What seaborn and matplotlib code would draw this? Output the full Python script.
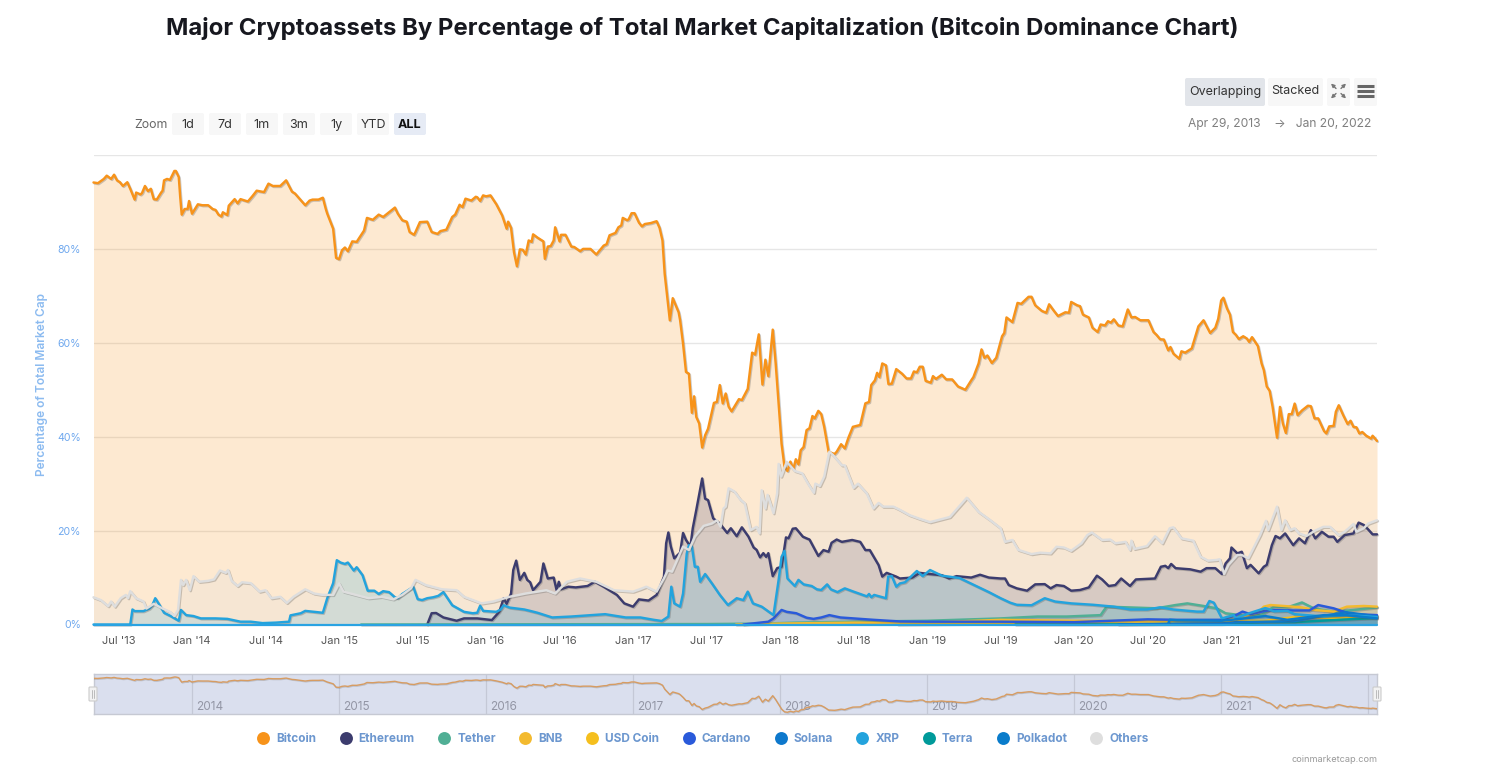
import matplotlib
matplotlib.use("Agg")
import matplotlib.pyplot as plt
import matplotlib.patheffects as pe
from matplotlib.lines import Line2D
from matplotlib.patches import FancyBboxPatch
from matplotlib.transforms import ScaledTranslation
import pandas as pd
import seaborn as sns

# (decimal year, % of total market cap)
bitcoin = [(2013.33,94.15),(2013.36,94.0),(2013.40,94.9),(2013.42,95.6),(2013.45,94.9),(2013.47,95.8),(2013.49,94.6),(2013.51,94.2),(2013.53,93.4),(2013.56,94.2),(2013.58,92.8),(2013.61,90.5),(2013.62,92.0),(2013.65,91.6),(2013.66,91.9),(2013.68,93.4),(2013.70,92.3),(2013.72,92.8),(2013.74,90.6),(2013.76,90.5),(2013.79,92.0),(2013.80,92.4),(2013.81,94.6),(2013.83,94.9),(2013.85,94.7),(2013.88,96.6),(2013.89,96.6),(2013.91,95.3),(2013.92,91.0),(2013.93,87.3),(2013.95,88.5),(2013.97,88.5),(2013.98,90.2),(2014.00,87.5),(2014.04,89.5),(2014.07,89.3),(2014.11,89.3),(2014.14,88.5),(2014.16,88.3),(2014.18,87.3),(2014.20,86.9),(2014.21,87.8),(2014.24,87.2),(2014.25,89.2),(2014.29,90.6),(2014.31,89.7),(2014.33,90.6),(2014.38,90.1),(2014.41,91.2),(2014.44,92.4),(2014.49,92.1),(2014.52,93.9),(2014.55,93.4),(2014.60,93.4),(2014.64,94.6),(2014.68,92.2),(2014.70,91.8),(2014.77,89.3),(2014.80,90.3),(2014.82,90.5),(2014.86,90.5),(2014.89,90.9),(2014.91,88.5),(2014.92,87.5),(2014.96,84.3),(2014.98,78.1),(2015.00,77.8),(2015.02,79.7),(2015.04,80.3),(2015.06,79.5),(2015.09,81.6),(2015.12,81.5),(2015.17,83.9),(2015.19,86.6),(2015.23,86.2),(2015.27,87.3),(2015.30,86.8),(2015.32,87.3),(2015.38,88.8),(2015.40,87.5),(2015.43,86.1),(2015.46,85.8),(2015.48,83.6),(2015.51,83.0),(2015.52,83.6),(2015.55,85.7),(2015.60,85.8),(2015.63,83.6),(2015.67,83.2),(2015.69,83.8),(2015.73,84.1),(2015.77,86.8),(2015.79,87.3),(2015.82,89.4),(2015.84,88.9),(2015.86,90.7),(2015.90,90.3),(2015.93,91.1),(2015.94,91.0),(2015.96,90.2),(2015.98,91.4),(2016.00,91.2),(2016.03,91.4),(2016.07,89.5),(2016.11,87.1),(2016.14,84.3),(2016.15,85.8),(2016.17,84.5),(2016.19,79.3),(2016.21,76.3),(2016.23,79.9),(2016.25,79.8),(2016.27,78.8),(2016.29,81.8),(2016.31,81.5),(2016.32,83.1),(2016.35,82.4),(2016.39,81.6),(2016.40,77.9),(2016.42,80.5),(2016.44,80.6),(2016.46,81.8),(2016.47,84.6),(2016.50,81.6),(2016.51,83.0),(2016.54,83.0),(2016.58,80.5),(2016.60,80.4),(2016.64,79.5),(2016.66,80.0),(2016.71,80.0),(2016.75,78.8),(2016.80,80.7),(2016.82,81.0),(2016.84,82.9),(2016.88,83.4),(2016.90,84.6),(2016.92,85.0),(2016.93,86.6),(2016.96,86.1),(2016.97,86.3),(2016.99,87.6),(2017.01,87.6),(2017.04,85.6),(2017.06,84.8),(2017.08,85.3),(2017.12,85.5),(2017.16,85.9),(2017.18,84.5),(2017.20,81.8),(2017.215,74.7),(2017.23,70.5),(2017.25,64.8),(2017.27,69.5),(2017.31,66.5),(2017.32,64.8),(2017.34,59.8),(2017.36,53.8),(2017.38,53.4),(2017.40,45.1),(2017.415,48.6),(2017.43,44.2),(2017.45,42.8),(2017.47,37.7),(2017.49,40.3),(2017.51,41.7),(2017.55,47.2),(2017.57,47.4),(2017.59,51.0),(2017.61,47.1),(2017.63,49.2),(2017.65,46.4),(2017.67,45.4),(2017.72,48.0),(2017.74,47.8),(2017.78,50.2),(2017.81,57.9),(2017.83,57.5),(2017.855,61.8),(2017.88,51.1),(2017.90,56.4),(2017.92,52.9),(2017.95,62.8),(2017.97,55.6),(2018.00,42.8),(2018.01,38.5),(2018.03,33.6),(2018.05,32.7),(2018.07,34.7),(2018.09,33.1),(2018.107,35.2),(2018.125,34.1),(2018.14,37.1),(2018.16,37.8),(2018.18,41.4),(2018.20,41.8),(2018.22,44.4),(2018.235,43.9),(2018.26,45.5),(2018.28,44.8),(2018.30,42.1),(2018.33,36.8),(2018.37,36.3),(2018.385,36.8),(2018.415,38.4),(2018.44,37.5),(2018.465,39.8),(2018.495,42.1),(2018.545,42.5),(2018.58,47.1),(2018.605,47.4),(2018.62,51.0),(2018.645,52.0),(2018.66,53.6),(2018.675,52.7),(2018.695,55.6),(2018.72,55.2),(2018.737,51.2),(2018.76,51.3),(2018.79,54.4),(2018.83,53.4),(2018.86,52.4),(2018.89,52.4),(2018.91,53.9),(2018.93,53.7),(2018.95,54.9),(2018.97,54.9),(2018.99,51.9),(2019.025,51.5),(2019.04,52.9),(2019.06,52.3),(2019.10,53.2),(2019.13,52.2),(2019.17,52.2),(2019.21,50.7),(2019.26,50.0),(2019.30,52.0),(2019.315,52.7),(2019.35,55.6),(2019.37,58.6),(2019.39,56.8),(2019.41,57.3),(2019.44,55.7),(2019.47,56.8),(2019.51,61.4),(2019.525,62.1),(2019.54,65.4),(2019.58,64.4),(2019.615,68.5),(2019.64,68.3),(2019.69,69.8),(2019.71,69.8),(2019.735,68.0),(2019.78,66.8),(2019.81,66.4),(2019.83,68.2),(2019.86,66.9),(2019.89,65.7),(2019.94,66.5),(2019.965,66.4),(2019.98,68.7),(2020.02,68.0),(2020.04,67.8),(2020.06,66.0),(2020.10,65.4),(2020.125,63.2),(2020.16,62.3),(2020.18,63.9),(2020.21,63.7),(2020.23,64.6),(2020.25,64.3),(2020.27,65.0),(2020.30,63.7),(2020.33,63.5),(2020.365,67.1),(2020.39,65.4),(2020.415,65.5),(2020.45,64.8),(2020.505,64.8),(2020.54,62.3),(2020.56,61.7),(2020.585,60.75),(2020.61,60.7),(2020.64,58.4),(2020.655,59.1),(2020.675,57.7),(2020.715,56.6),(2020.73,58.2),(2020.755,57.9),(2020.80,58.8),(2020.82,60.9),(2020.845,63.5),(2020.88,64.8),(2020.925,62.1),(2020.96,63.2),(2020.98,65.1),(2021.00,69.0),(2021.015,69.6),(2021.04,67.3),(2021.06,66.0),(2021.08,62.3),(2021.10,61.7),(2021.12,60.8),(2021.15,61.4),(2021.175,60.9),(2021.19,60.2),(2021.21,61.2),(2021.25,59.3),(2021.275,55.6),(2021.29,54.2),(2021.31,50.7),(2021.33,49.75),(2021.35,46.35),(2021.38,39.8),(2021.40,46.35),(2021.42,42.8),(2021.44,40.8),(2021.46,44.8),(2021.48,44.8),(2021.50,47.05),(2021.52,44.6),(2021.55,45.6),(2021.59,46.6),(2021.61,46.5),(2021.635,43.9),(2021.66,43.9),(2021.70,41.2),(2021.715,40.7),(2021.735,42.2),(2021.765,42.3),(2021.78,45.3),(2021.80,46.7),(2021.83,44.6),(2021.86,42.7),(2021.88,43.4),(2021.90,42.1),(2021.92,42.0),(2021.94,40.7),(2021.96,41.0),(2021.985,40.25),(2022.02,39.6),(2022.03,40.2),(2022.06,39.1)]

ethereum = [(2015.60,0),(2015.63,2.4),(2015.66,2.45),(2015.71,1.5),(2015.80,0.8),(2015.85,1.3),(2015.94,1.3),(2016.04,0.95),(2016.09,2.7),(2016.12,5.6),(2016.14,4.4),(2016.17,6.6),(2016.185,11.6),(2016.205,13.6),(2016.23,9.5),(2016.26,11.0),(2016.28,9.5),(2016.30,9.0),(2016.32,7.3),(2016.37,9.1),(2016.39,13.0),(2016.42,9.8),(2016.46,10.0),(2016.48,7.3),(2016.495,9.1),(2016.51,7.5),(2016.56,8.05),(2016.61,7.9),(2016.69,8.2),(2016.74,9.1),(2016.80,8.05),(2016.89,6.3),(2016.94,4.5),(2017.00,3.8),(2017.04,5.35),(2017.105,5.1),(2017.16,6.3),(2017.21,10.2),(2017.225,17.3),(2017.24,19.6),(2017.257,16.6),(2017.28,14.1),(2017.32,15.3),(2017.34,19.5),(2017.36,18.0),(2017.39,16.6),(2017.406,20.5),(2017.43,24.4),(2017.47,31.1),(2017.49,26.8),(2017.51,26.5),(2017.545,22.6),(2017.59,21.5),(2017.64,19.5),(2017.665,20.5),(2017.705,18.8),(2017.74,20.7),(2017.785,18.7),(2017.82,16.4),(2017.84,15.9),(2017.864,14.3),(2017.886,15.2),(2017.905,14.4),(2017.92,15.2),(2017.95,10.3),(2017.98,12.0),(2018.01,12.3),(2018.04,18.55),(2018.057,18.35),(2018.086,20.4),(2018.107,20.5),(2018.155,18.7),(2018.18,18.35),(2018.20,18.1),(2018.26,14.6),(2018.295,15.85),(2018.33,15.5),(2018.35,17.4),(2018.385,18.1),(2018.42,17.6),(2018.49,18.0),(2018.545,17.6),(2018.58,15.85),(2018.61,15.85),(2018.67,12.65),(2018.695,10.2),(2018.725,11.0),(2018.79,10.2),(2018.815,9.8),(2018.9,10.0),(2018.95,11.0),(2019.0,10.8),(2019.1,10.5),(2019.15,9.8),(2019.2,10.3),(2019.3,10.0),(2019.36,10.6),(2019.42,10.0),(2019.50,9.8),(2019.53,9.8),(2019.555,8.4),(2019.61,7.7),(2019.68,7.2),(2019.735,8.55),(2019.80,8.6),(2019.84,7.7),(2019.88,8.4),(2019.93,8.2),(2019.98,7.2),(2020.04,7.35),(2020.10,7.9),(2020.155,10.4),(2020.19,9.6),(2020.235,8.2),(2020.28,8.4),(2020.32,9.8),(2020.38,8.2),(2020.42,9.6),(2020.55,9.8),(2020.59,12.3),(2020.62,12.5),(2020.64,12.0),(2020.66,12.9),(2020.69,12.0),(2020.79,11.75),(2020.86,11.25),(2020.90,12.0),(2020.96,12.0),(2021.005,10.75),(2021.03,13.0),(2021.06,14.1),(2021.07,16.4),(2021.11,15.15),(2021.14,15.5),(2021.175,12.0),(2021.20,12.7),(2021.255,10.9),(2021.29,12.3),(2021.31,12.7),(2021.345,16.9),(2021.37,18.85),(2021.40,18.35),(2021.435,19.4),(2021.49,16.9),(2021.53,18.35),(2021.57,17.3),(2021.61,20.1),(2021.64,18.35),(2021.685,19.75),(2021.73,18.7),(2021.765,18.7),(2021.79,17.6),(2021.84,19.05),(2021.90,19.4),(2021.935,21.7),(2021.97,21.2),(2022.00,20.25),(2022.03,19.2),(2022.06,19.2)]

tether = [(2015.15,0),(2017.5,0.1),(2017.9,0.2),(2018.1,0.4),(2018.5,0.6),(2019.0,0.8),(2019.50,1.3),(2019.75,1.7),(2019.95,1.7),(2020.18,2.0),(2020.22,3.8),(2020.37,3.65),(2020.56,3.45),(2020.69,4.15),(2020.77,4.5),(2020.88,3.95),(2020.97,3.45),(2021.03,2.4),(2021.13,2.0),(2021.27,2.0),(2021.36,3.8),(2021.45,3.65),(2021.55,4.7),(2021.63,3.45),(2021.765,2.75),(2021.90,3.1),(2022.06,3.65)]

bnb = [(2017.7,0),(2018.0,0.2),(2018.5,0.4),(2019.0,0.4),(2019.5,1.0),(2020.0,0.8),(2020.5,0.7),(2021.0,0.9),(2021.1,1.2),(2021.2,2.2),(2021.25,2.5),(2021.29,3.8),(2021.335,4.15),(2021.425,3.95),(2021.55,3.65),(2021.63,3.1),(2021.765,2.75),(2021.855,3.8),(2021.97,3.95),(2022.06,3.8)]

usd_coin = [(2018.8,0),(2019.5,0.2),(2020.5,0.2),(2020.8,0.7),(2021.0,0.8),(2021.3,0.8),(2021.5,1.6),(2021.75,1.4),(2022.06,1.8)]

cardano = [(2017.75,0),(2017.92,0.6),(2017.955,1.3),(2018.01,3.1),(2018.045,2.7),(2018.11,2.4),(2018.18,1.45),(2018.227,1.2),(2018.28,1.5),(2018.335,2.0),(2018.41,1.5),(2018.50,1.3),(2018.635,1.0),(2018.815,0.65),(2019.0,0.6),(2019.5,0.6),(2020.0,0.5),(2020.5,1.1),(2020.7,1.0),(2021.0,1.0),(2021.1,2.0),(2021.145,2.75),(2021.2,2.2),(2021.3,2.9),(2021.36,3.1),(2021.5,3.0),(2021.6,3.0),(2021.66,4.15),(2021.765,3.45),(2021.88,2.25),(2022.06,2.0)]

solana = [(2020.3,0),(2020.7,0.2),(2021.0,0.2),(2021.1,0.5),(2021.3,0.6),(2021.5,0.7),(2021.65,1.6),(2021.85,2.6),(2021.95,2.2),(2022.06,1.7)]

xrp = [(2013.33,0),(2013.58,0),(2013.595,3.2),(2013.61,2.85),(2013.67,2.85),(2013.71,3.4),(2013.73,4.1),(2013.75,5.6),(2013.78,4.1),(2013.81,2.5),(2013.855,1.8),(2013.91,0.8),(2013.925,3.1),(2013.96,2.0),(2014.01,1.8),(2014.06,1.3),(2014.16,1.3),(2014.24,1.2),(2014.33,0.6),(2014.40,0.6),(2014.48,0.3),(2014.57,0.4),(2014.66,0.6),(2014.67,1.95),(2014.74,2.4),(2014.77,2.9),(2014.83,2.7),(2014.89,2.5),(2014.92,5.6),(2014.96,8.8),(2014.985,13.7),(2015.01,13.2),(2015.04,12.9),(2015.06,13.2),(2015.10,11.5),(2015.12,12.2),(2015.16,10.5),(2015.195,7.2),(2015.24,7.2),(2015.27,6.5),(2015.30,7.1),(2015.34,6.9),(2015.38,5.8),(2015.40,5.6),(2015.43,6.5),(2015.49,7.7),(2015.505,8.0),(2015.535,5.4),(2015.565,5.2),(2015.60,5.6),(2015.64,5.8),(2015.675,6.1),(2015.71,6.9),(2015.77,4.1),(2015.85,2.7),(2015.91,2.4),(2015.94,2.5),(2015.96,4.0),(2015.98,2.9),(2016.07,2.7),(2016.10,3.2),(2016.12,4.1),(2016.16,3.6),(2016.26,3.2),(2016.30,2.9),(2016.35,2.5),(2016.45,1.5),(2016.58,1.7),(2016.72,2.0),(2016.81,2.2),(2016.95,1.5),(2017.05,1.5),(2017.14,1.0),(2017.195,0.75),(2017.24,1.7),(2017.26,8.05),(2017.28,4.5),(2017.32,3.8),(2017.34,6.6),(2017.365,15.1),(2017.38,16.9),(2017.40,16.6),(2017.42,12.3),(2017.44,12.3),(2017.456,9.1),(2017.49,10.75),(2017.535,8.8),(2017.59,6.3),(2017.645,4.15),(2017.705,5.6),(2017.75,5.2),(2017.78,7.0),(2017.815,4.5),(2017.875,3.8),(2017.955,2.0),(2017.99,9.5),(2018.01,14.4),(2018.03,15.7),(2018.05,9.8),(2018.10,8.2),(2018.125,9.5),(2018.16,8.55),(2018.215,8.2),(2018.25,7.5),(2018.28,7.35),(2018.32,8.55),(2018.345,7.5),(2018.39,6.9),(2018.44,7.7),(2018.50,7.0),(2018.59,6.0),(2018.605,6.5),(2018.62,5.8),(2018.64,6.3),(2018.72,5.6),(2018.735,10.2),(2018.76,10.3),(2018.79,8.05),(2018.815,8.75),(2018.85,9.0),(2018.9,10.5),(2018.93,11.4),(2018.97,10.3),(2019.02,11.6),(2019.1,10.4),(2019.22,9.9),(2019.32,8.4),(2019.42,6.9),(2019.50,5.6),(2019.565,4.65),(2019.61,4.2),(2019.71,4.1),(2019.80,5.6),(2019.87,4.9),(2019.98,4.5),(2020.13,4.2),(2020.27,3.8),(2020.38,3.2),(2020.495,3.2),(2020.585,3.65),(2020.675,3.2),(2020.835,2.75),(2020.88,2.75),(2020.92,5.0),(2020.95,4.65),(2020.97,3.45),(2021.005,1.3),(2021.085,2.0),(2021.1,1.3),(2021.2,2.5),(2021.25,3.0),(2021.3,3.5),(2021.36,2.8),(2021.45,2.9),(2021.5,2.2),(2021.7,1.7),(2021.85,2.0),(2022.06,1.6)]

terra = [(2019.6,0),(2020.5,0.05),(2021.0,0.1),(2021.3,0.5),(2021.5,0.5),(2021.8,1.0),(2022.0,1.3),(2022.06,1.4)]

polkadot = [(2020.64,0.2),(2020.65,1.0),(2020.7,0.9),(2021.0,0.8),(2021.1,1.1),(2021.3,1.8),(2021.45,1.0),(2021.7,2.0),(2021.85,2.0),(2022.06,1.3)]

others = [(2013.33,5.8),(2013.38,5.2),(2013.43,3.9),(2013.45,4.9),(2013.475,3.8),(2013.515,5.6),(2013.55,6.3),(2013.565,5.6),(2013.58,7.1),(2013.62,5.6),(2013.67,4.9),(2013.69,3.4),(2013.74,4.4),(2013.80,3.4),(2013.85,2.7),(2013.88,1.8),(2013.905,3.1),(2013.925,9.5),(2013.94,8.4),(2013.96,9.5),(2013.985,7.3),(2014.01,10.3),(2014.05,9.1),(2014.11,9.3),(2014.15,9.6),(2014.19,11.5),(2014.23,11.0),(2014.245,11.6),(2014.27,9.3),(2014.31,8.2),(2014.34,9.0),(2014.40,8.8),(2014.46,7.0),(2014.50,7.3),(2014.54,5.6),(2014.60,5.9),(2014.645,4.6),(2014.69,5.9),(2014.77,7.5),(2014.83,6.6),(2014.89,6.3),(2014.96,6.3),(2015.00,8.75),(2015.03,7.0),(2015.09,6.5),(2015.20,5.6),(2015.29,5.9),(2015.37,5.35),(2015.43,6.3),(2015.49,7.7),(2015.52,9.5),(2015.59,8.4),(2015.70,7.5),(2015.80,7.3),(2015.85,5.9),(2015.97,4.5),(2016.05,4.9),(2016.16,5.9),(2016.27,6.6),(2016.41,7.3),(2016.47,6.6),(2016.55,9.1),(2016.64,9.8),(2016.75,9.1),(2016.87,7.3),(2017.00,7.0),(2017.05,7.55),(2017.09,8.05),(2017.16,7.0),(2017.21,9.8),(2017.235,11.5),(2017.265,11.25),(2017.34,16.6),(2017.38,15.85),(2017.42,18.7),(2017.48,21.0),(2017.535,21.5),(2017.57,22.2),(2017.595,20.8),(2017.615,24.7),(2017.63,25.1),(2017.65,29.0),(2017.69,28.3),(2017.73,26.6),(2017.76,25.8),(2017.80,20.1),(2017.84,20.8),(2017.86,19.4),(2017.875,28.6),(2017.90,24.7),(2017.915,27.6),(2017.955,23.7),(2017.98,27.9),(2017.99,34.2),(2018.007,31.5),(2018.045,34.65),(2018.10,32.7),(2018.15,32.2),(2018.19,30.0),(2018.23,28.05),(2018.24,30.0),(2018.27,29.5),(2018.30,31.5),(2018.335,36.8),(2018.36,36.1),(2018.42,33.9),(2018.44,33.9),(2018.50,29.1),(2018.53,30.0),(2018.59,27.9),(2018.635,24.7),(2018.67,25.9),(2018.70,25.1),(2018.77,25.1),(2018.81,24.5),(2018.88,23.3),(2018.95,22.5),(2019.02,21.8),(2019.155,22.9),(2019.27,27.0),(2019.35,24.0),(2019.43,22.2),(2019.50,20.5),(2019.53,17.6),(2019.58,18.0),(2019.62,15.9),(2019.71,15.0),(2019.77,15.3),(2019.84,15.15),(2019.88,16.55),(2019.93,16.4),(2019.98,15.7),(2020.05,17.3),(2020.09,19.05),(2020.12,19.6),(2020.19,18.0),(2020.245,18.1),(2020.28,17.3),(2020.35,17.6),(2020.38,15.9),(2020.39,17.85),(2020.41,16.1),(2020.495,16.7),(2020.55,18.8),(2020.60,17.3),(2020.65,20.5),(2020.675,20.7),(2020.73,18.35),(2020.81,17.85),(2020.86,14.45),(2020.91,13.6),(2020.97,13.75),(2020.99,13.9),(2021.02,10.75),(2021.05,12.7),(2021.11,14.8),(2021.14,14.8),(2021.185,14.1),(2021.265,19.05),(2021.305,22.1),(2021.32,20.1),(2021.38,25.1),(2021.41,20.1),(2021.435,22.2),(2021.47,20.1),(2021.50,20.5),(2021.53,19.4),(2021.58,18.85),(2021.64,20.0),(2021.695,20.8),(2021.74,20.8),(2021.80,19.05),(2021.84,19.75),(2021.90,21.4),(2021.92,19.75),(2021.97,20.5),(2022.00,21.5),(2022.06,22.2)]

series_names = ["Bitcoin","Ethereum","Tether","BNB","USD Coin","Cardano","Solana","XRP","Terra","Polkadot","Others"]
series_data = [bitcoin,ethereum,tether,bnb,usd_coin,cardano,solana,xrp,terra,polkadot,others]
series_colors = ["#F7931A","#3C3C6E","#50AF95","#F3BA2F","#F5BF1E","#2A5ADA","#0E78CC","#23A3DD","#009A9A","#0A7CCB","#DEDEDE"]
# Terra sits beneath the blue lines at the bottom right of the chart
draw_order = [0,1,2,3,4,8,5,6,7,9,10]

y_ticks = [0,20,40,60,80,100]
y_tick_labels = ["0%","20%","40%","60%","80%",""]
x_ticks = [2013.5+0.5*i for i in range(18)]
x_tick_labels = ["Jul '13","Jan '14","Jul '14","Jan '15","Jul '15","Jan '16","Jul '16","Jan '17","Jul '17","Jan '18","Jul '18","Jan '19","Jul '19","Jan '20","Jul '20","Jan '21","Jul '21","Jan '22"]
nav_years = [2014,2015,2016,2017,2018,2019,2020,2021]
zoom_buttons = ["1d","7d","1m","3m","1y","YTD","ALL"]

sns.set_theme(style="white")
plt.rcParams["font.family"] = ["Inter","DejaVu Sans"]

W, H = 1493, 769
fig = plt.figure(figsize=(W/100, H/100), dpi=100, facecolor="white")
def rect(l, t, r, b):
    return [l/W, 1-b/H, (r-l)/W, (b-t)/H]

X0, X1 = 2013.33, 2022.06

ax = fig.add_axes(rect(93.5,155,1377,624.5))
ax.set_xlim(X0, X1); ax.set_ylim(0, 100)
ax.set_yticks(y_ticks); ax.set_yticklabels(y_tick_labels)
ax.set_xticks(x_ticks); ax.set_xticklabels(x_tick_labels)
ax.grid(axis="y", color="#E6E6E6", lw=1); ax.set_axisbelow(True)
for s in ax.spines.values(): s.set_visible(False)
ax.tick_params(axis="x", length=7.2, width=0.8, color="#CCD6EB", labelsize=8, labelcolor="#555555", pad=0.8)
ax.tick_params(axis="y", length=0, labelsize=7.6, labelcolor="#6FA8EE", pad=9)
shadow = [pe.SimpleLineShadow(offset=(0.7,-0.7), shadow_color="#555555", alpha=0.3), pe.Normal()]
for i in draw_order:
    name, data, color = series_names[i], series_data[i], series_colors[i]
    df = pd.DataFrame(data, columns=["year","pct"])
    ax.fill_between(df["year"], 0, df["pct"], color=color, alpha=0.2, lw=0, zorder=2)
    sns.lineplot(data=df, x="year", y="pct", ax=ax, color=color, lw=1.75, estimator=None, sort=False,
                 legend=False, clip_on=False, zorder=3, path_effects=shadow, solid_joinstyle="round")
ax.axhline(0, color="#2AA3E2", lw=1.6, clip_on=False, zorder=4)
ax.set_xlabel(""); ax.set_ylabel("")
ax.set_xlim(X0, X1); ax.set_ylim(0, 100)
last = ax.get_xticklabels()[-1]
last.set_ha("right")
last.set_transform(last.get_transform() + ScaledTranslation(0.08, 0, fig.dpi_scale_trans))

# navigator
nav = fig.add_axes(rect(93.5,674,1377,714))
nav.set_facecolor("#DADFEE")
nav.set_xlim(X0, X1); nav.set_ylim(29.6, 102)
nav.set_xticks([]); nav.set_yticks([])
for s in nav.spines.values(): s.set_color("#C6C9D3"); s.set_linewidth(1)
for yr in nav_years + [2022]:
    nav.axvline(yr, color="#C4C8D6", lw=0.9, zorder=1)
for yr in nav_years:
    nav.annotate(str(yr), xy=(yr, 42), xytext=(3, 0), textcoords="offset points", color="#9396A5",
                 fontsize=8.5, ha="left", va="center", zorder=2)
nav_df = pd.DataFrame(bitcoin, columns=["year","pct"])
sns.lineplot(data=nav_df, x="year", y="pct", ax=nav, color="#D79C62", lw=1.0, estimator=None, sort=False,
             legend=False, zorder=3, path_effects=[pe.SimpleLineShadow(offset=(0.5,-0.6), shadow_color="#777777", alpha=0.3), pe.Normal()])
nav.set_xlabel(""); nav.set_ylabel("")

# page furniture, placed in pixels
ui = fig.add_axes([0,0,1,1], facecolor="none")
ui.set_xlim(0, W); ui.set_ylim(H, 0); ui.axis("off"); ui.set_zorder(5)
def button(l, t, r, b, fc):
    ui.add_patch(FancyBboxPatch((l+2,t+2), r-l-4, b-t-4, boxstyle="round,pad=2", fc=fc, ec="none"))

ui.text(702.5, 28.5, "Major Cryptoassets By Percentage of Total Market Capitalization (Bitcoin Dominance Chart)",
        ha="center", va="center", fontsize=17.25, fontweight="bold", color="#17181F")
ui.text(134, 125, "Zoom", ha="left", va="center", fontsize=8.9, color="#666666")
for i, lab in enumerate(zoom_buttons):
    l = 172 + 37*i
    active = lab == "ALL"
    button(l, 113, l+32, 135, "#E6EBF5" if active else "#F7F7F7")
    ui.text(l+16, 125, lab, ha="center", va="center", fontsize=9,
            color="#111111" if active else "#333333", fontweight="bold" if active else "normal")
button(1185, 78, 1265, 106, "#E2E5EA")
ui.text(1225, 91.5, "Overlapping", ha="center", va="center", fontsize=9, color="#333333")
button(1268, 78, 1323, 106, "#F7F7F7")
ui.text(1295.5, 91.5, "Stacked", ha="center", va="center", fontsize=9, color="#333333")
button(1327, 78, 1350, 106, "#F7F7F7")
button(1354, 78, 1377, 106, "#F7F7F7")
for y in (86, 91, 96):
    ui.plot([1357,1374],[y,y], color="#666666", lw=2.2, solid_capstyle="butt")
for sx, sy in ((1,1),(1,-1),(-1,1),(-1,-1)):
    cx, cy = 1338.5+sx*2.5, 91+sy*2.5
    ui.annotate("", xy=(cx+sx*5, cy+sy*5), xytext=(cx, cy),
                arrowprops=dict(arrowstyle="-|>", color="#777777", lw=1, mutation_scale=5, shrinkA=0, shrinkB=0))
ui.text(1371, 124.5, "Apr 29, 2013    \u2192   Jan 20, 2022", ha="right", va="center", fontsize=8.7, color="#7F7F7F")
ui.text(42, 385, "Percentage of Total Market Cap", rotation=90, ha="center", va="center", fontsize=8.6,
        fontweight="semibold", color="#8CBBF0")
ui.text(1377, 760, "coinmarketcap.com", ha="right", va="center", fontsize=6.6, color="#999999")
for x in (93, 1377):
    ui.add_patch(FancyBboxPatch((x-3,688), 6, 12, boxstyle="round,pad=1", fc="#F2F2F2", ec="#CCCCCC", lw=0.8, zorder=6))
    for dx in (-1.2, 1.2):
        ui.plot([x+dx,x+dx],[690,698], color="#BBBBBB", lw=0.7, zorder=7)

handles = [Line2D([],[],ls="",marker="o",ms=9.3,mfc=c,mec="none",label=n) for n,c in zip(series_names,series_colors)]
leg = fig.legend(handles=handles, loc="center", bbox_to_anchor=(703/W, 1-739/H), ncols=11, frameon=False,
                 fontsize=8.5, handletextpad=0.6, columnspacing=2.0, handlelength=1.0, borderpad=0)
for t in leg.get_texts():
    t.set_color("#6C97CF"); t.set_fontweight("bold")

fig.savefig("out.png", dpi=100, facecolor="white")
